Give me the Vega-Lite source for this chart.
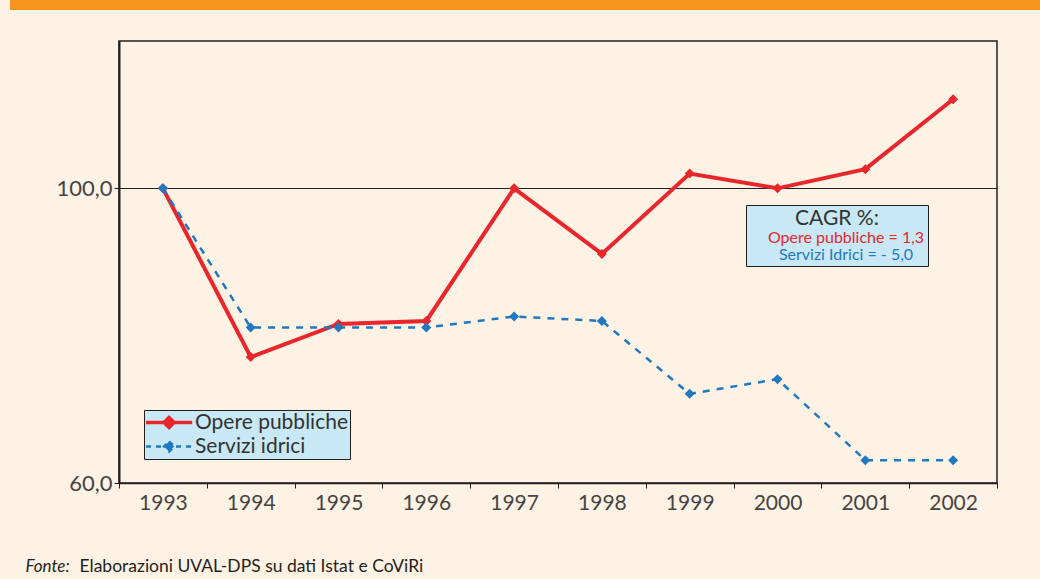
{
  "$schema": "https://vega.github.io/schema/vega-lite/v6.json",
  "background": "#FEF2E4",
  "padding": {"left": 10, "top": 0, "right": 0, "bottom": 4},
  "width": 878,
  "height": 442,
  "view": {"stroke": "#231F20", "strokeWidth": 1.5, "fill": null},
  "data": {
    "values": [
      {"year": 1993, "series": "Opere pubbliche", "value": 100.0, "cagr": "Opere pubbliche = 1,3"},
      {"year": 1994, "series": "Opere pubbliche", "value": 77.1, "cagr": "Opere pubbliche = 1,3"},
      {"year": 1995, "series": "Opere pubbliche", "value": 81.6, "cagr": "Opere pubbliche = 1,3"},
      {"year": 1996, "series": "Opere pubbliche", "value": 82.0, "cagr": "Opere pubbliche = 1,3"},
      {"year": 1997, "series": "Opere pubbliche", "value": 100.0, "cagr": "Opere pubbliche = 1,3"},
      {"year": 1998, "series": "Opere pubbliche", "value": 91.1, "cagr": "Opere pubbliche = 1,3"},
      {"year": 1999, "series": "Opere pubbliche", "value": 102.0, "cagr": "Opere pubbliche = 1,3"},
      {"year": 2000, "series": "Opere pubbliche", "value": 100.0, "cagr": "Opere pubbliche = 1,3"},
      {"year": 2001, "series": "Opere pubbliche", "value": 102.6, "cagr": "Opere pubbliche = 1,3"},
      {"year": 2002, "series": "Opere pubbliche", "value": 112.1, "cagr": "Opere pubbliche = 1,3"},
      {"year": 1993, "series": "Servizi idrici", "value": 100.0, "cagr": "Servizi Idrici = - 5,0"},
      {"year": 1994, "series": "Servizi idrici", "value": 81.1, "cagr": "Servizi Idrici = - 5,0"},
      {"year": 1995, "series": "Servizi idrici", "value": 81.1, "cagr": "Servizi Idrici = - 5,0"},
      {"year": 1996, "series": "Servizi idrici", "value": 81.1, "cagr": "Servizi Idrici = - 5,0"},
      {"year": 1997, "series": "Servizi idrici", "value": 82.6, "cagr": "Servizi Idrici = - 5,0"},
      {"year": 1998, "series": "Servizi idrici", "value": 82.0, "cagr": "Servizi Idrici = - 5,0"},
      {"year": 1999, "series": "Servizi idrici", "value": 72.1, "cagr": "Servizi Idrici = - 5,0"},
      {"year": 2000, "series": "Servizi idrici", "value": 74.1, "cagr": "Servizi Idrici = - 5,0"},
      {"year": 2001, "series": "Servizi idrici", "value": 63.1, "cagr": "Servizi Idrici = - 5,0"},
      {"year": 2002, "series": "Servizi idrici", "value": 63.1, "cagr": "Servizi Idrici = - 5,0"}
    ]
  },
  "encoding": {
    "x": {
      "field": "year",
      "type": "ordinal",
      "scale": {"type": "band", "paddingInner": 0, "paddingOuter": 0},
      "axis": {
        "title": "Elaborazioni UVAL-DPS su dati Istat e CoViRi",
        "titleX": -40,
        "titleY": 88,
        "titleAlign": "left",
        "titleAnchor": "start",
        "titleBaseline": "alphabetic",
        "titleFont": "Lato",
        "titleFontSize": 17.5,
        "titleFontWeight": "normal",
        "titleColor": "#231F20",
        "labelFont": "Lato",
        "labelFontSize": 21,
        "labelColor": "#444444",
        "labelAngle": 0,
        "labelPadding": 4,
        "tickBand": "extent",
        "tickSize": 5,
        "tickColor": "#231F20",
        "domainColor": "#231F20",
        "domainWidth": 1.5
      }
    },
    "y": {
      "field": "value",
      "type": "quantitative",
      "scale": {"domain": [60, 120], "nice": false, "zero": false},
      "axis": {
        "title": "Fonte:",
        "titleAngle": 0,
        "titleX": -94,
        "titleY": 530,
        "titleAlign": "left",
        "titleAnchor": "start",
        "titleBaseline": "alphabetic",
        "titleFont": "Lato",
        "titleFontSize": 17,
        "titleFontStyle": "italic",
        "titleFontWeight": "normal",
        "titleColor": "#231F20",
        "values": [60, 100],
        "labelExpr": "replace(format(datum.value, '.1f'), '.', ',')",
        "labelFont": "Lato",
        "labelFontSize": 22,
        "labelColor": "#444444",
        "labelPadding": 2,
        "tickSize": 5,
        "tickColor": "#231F20",
        "grid": true,
        "gridColor": "#231F20",
        "gridWidth": 1,
        "gridOpacity": 1,
        "domainColor": "#231F20",
        "domainWidth": 2
      }
    },
    "color": {
      "field": "series",
      "type": "nominal",
      "scale": {"domain": ["Opere pubbliche", "Servizi idrici"], "range": ["#E8262B", "#1F78C0"]},
      "legend": {
        "title": null,
        "orient": "none",
        "legendX": 25,
        "legendY": 369,
        "fillColor": "#C8E8F5",
        "strokeColor": "#231F20",
        "padding": 2,
        "rowPadding": 0,
        "symbolType": "M-1,0H3.4M1.2,-0.48L1.68,0L1.2,0.48L0.72,0Z",
        "symbolSize": 441,
        "labelOffset": 28,
        "labelFont": "Lato",
        "labelFontSize": 21,
        "labelColor": "#333333",
        "encode": {
          "symbols": {
            "update": {
              "fill": {"signal": "datum.value === 'Opere pubbliche' ? '#E8262B' : '#1F78C0'"},
              "stroke": {"signal": "datum.value === 'Opere pubbliche' ? '#E8262B' : '#1F78C0'"},
              "strokeWidth": {"signal": "datum.value === 'Opere pubbliche' ? 3.5 : 2.5"},
              "strokeDash": {"signal": "datum.value === 'Opere pubbliche' ? [1, 0] : [5, 5]"},
              "opacity": {"value": 1}
            }
          }
        }
      }
    }
  },
  "layer": [
    {
      "transform": [{"filter": "datum.series === 'Opere pubbliche'"}],
      "mark": {"type": "line", "strokeWidth": 4, "strokeJoin": "miter"}
    },
    {
      "transform": [{"filter": "datum.series === 'Servizi idrici'"}],
      "mark": {"type": "line", "strokeWidth": 2.5, "strokeDash": [7, 7]}
    },
    {
      "mark": {"type": "point", "filled": true, "opacity": 1, "size": 100, "strokeWidth": 0},
      "encoding": {
        "stroke": {
          "field": "value",
          "type": "quantitative",
          "scale": {"domain": [60, 120], "range": ["#F7941D", "#F7941D"]},
          "legend": {
            "title": null,
            "orient": "none",
            "direction": "horizontal",
            "legendX": -109,
            "legendY": -41,
            "padding": 0,
            "gradientLength": 1030,
            "gradientThickness": 10,
            "gradientStrokeWidth": 0,
            "labelExpr": "''",
            "labelFontSize": 1
          }
        },
        "shape": {
          "field": "cagr",
          "type": "nominal",
          "scale": {"range": ["diamond", "diamond"]},
          "legend": {
            "title": "CAGR %:",
            "orient": "none",
            "legendX": 627,
            "legendY": 164,
            "fillColor": "#C8E8F5",
            "strokeColor": "#231F20",
            "padding": 3,
            "rowPadding": 1,
            "titleFont": "Lato",
            "titleFontSize": 21,
            "titleFontWeight": "normal",
            "titleColor": "#333333",
            "titleAnchor": "middle",
            "titlePadding": 1,
            "symbolSize": 0,
            "symbolOpacity": 0,
            "labelAlign": "center",
            "labelOffset": 81,
            "labelFont": "Lato",
            "labelFontSize": 16,
            "labelColor": {"expr": "datum.label === 'Opere pubbliche = 1,3' ? '#E8262B' : '#1F78C0'"},
            "encode": {
              "labels": {
                "update": {
                  "fill": {"signal": "datum.label === 'Opere pubbliche = 1,3' ? '#E8262B' : '#1F78C0'"}
                }
              }
            }
          }
        }
      }
    }
  ]
}
